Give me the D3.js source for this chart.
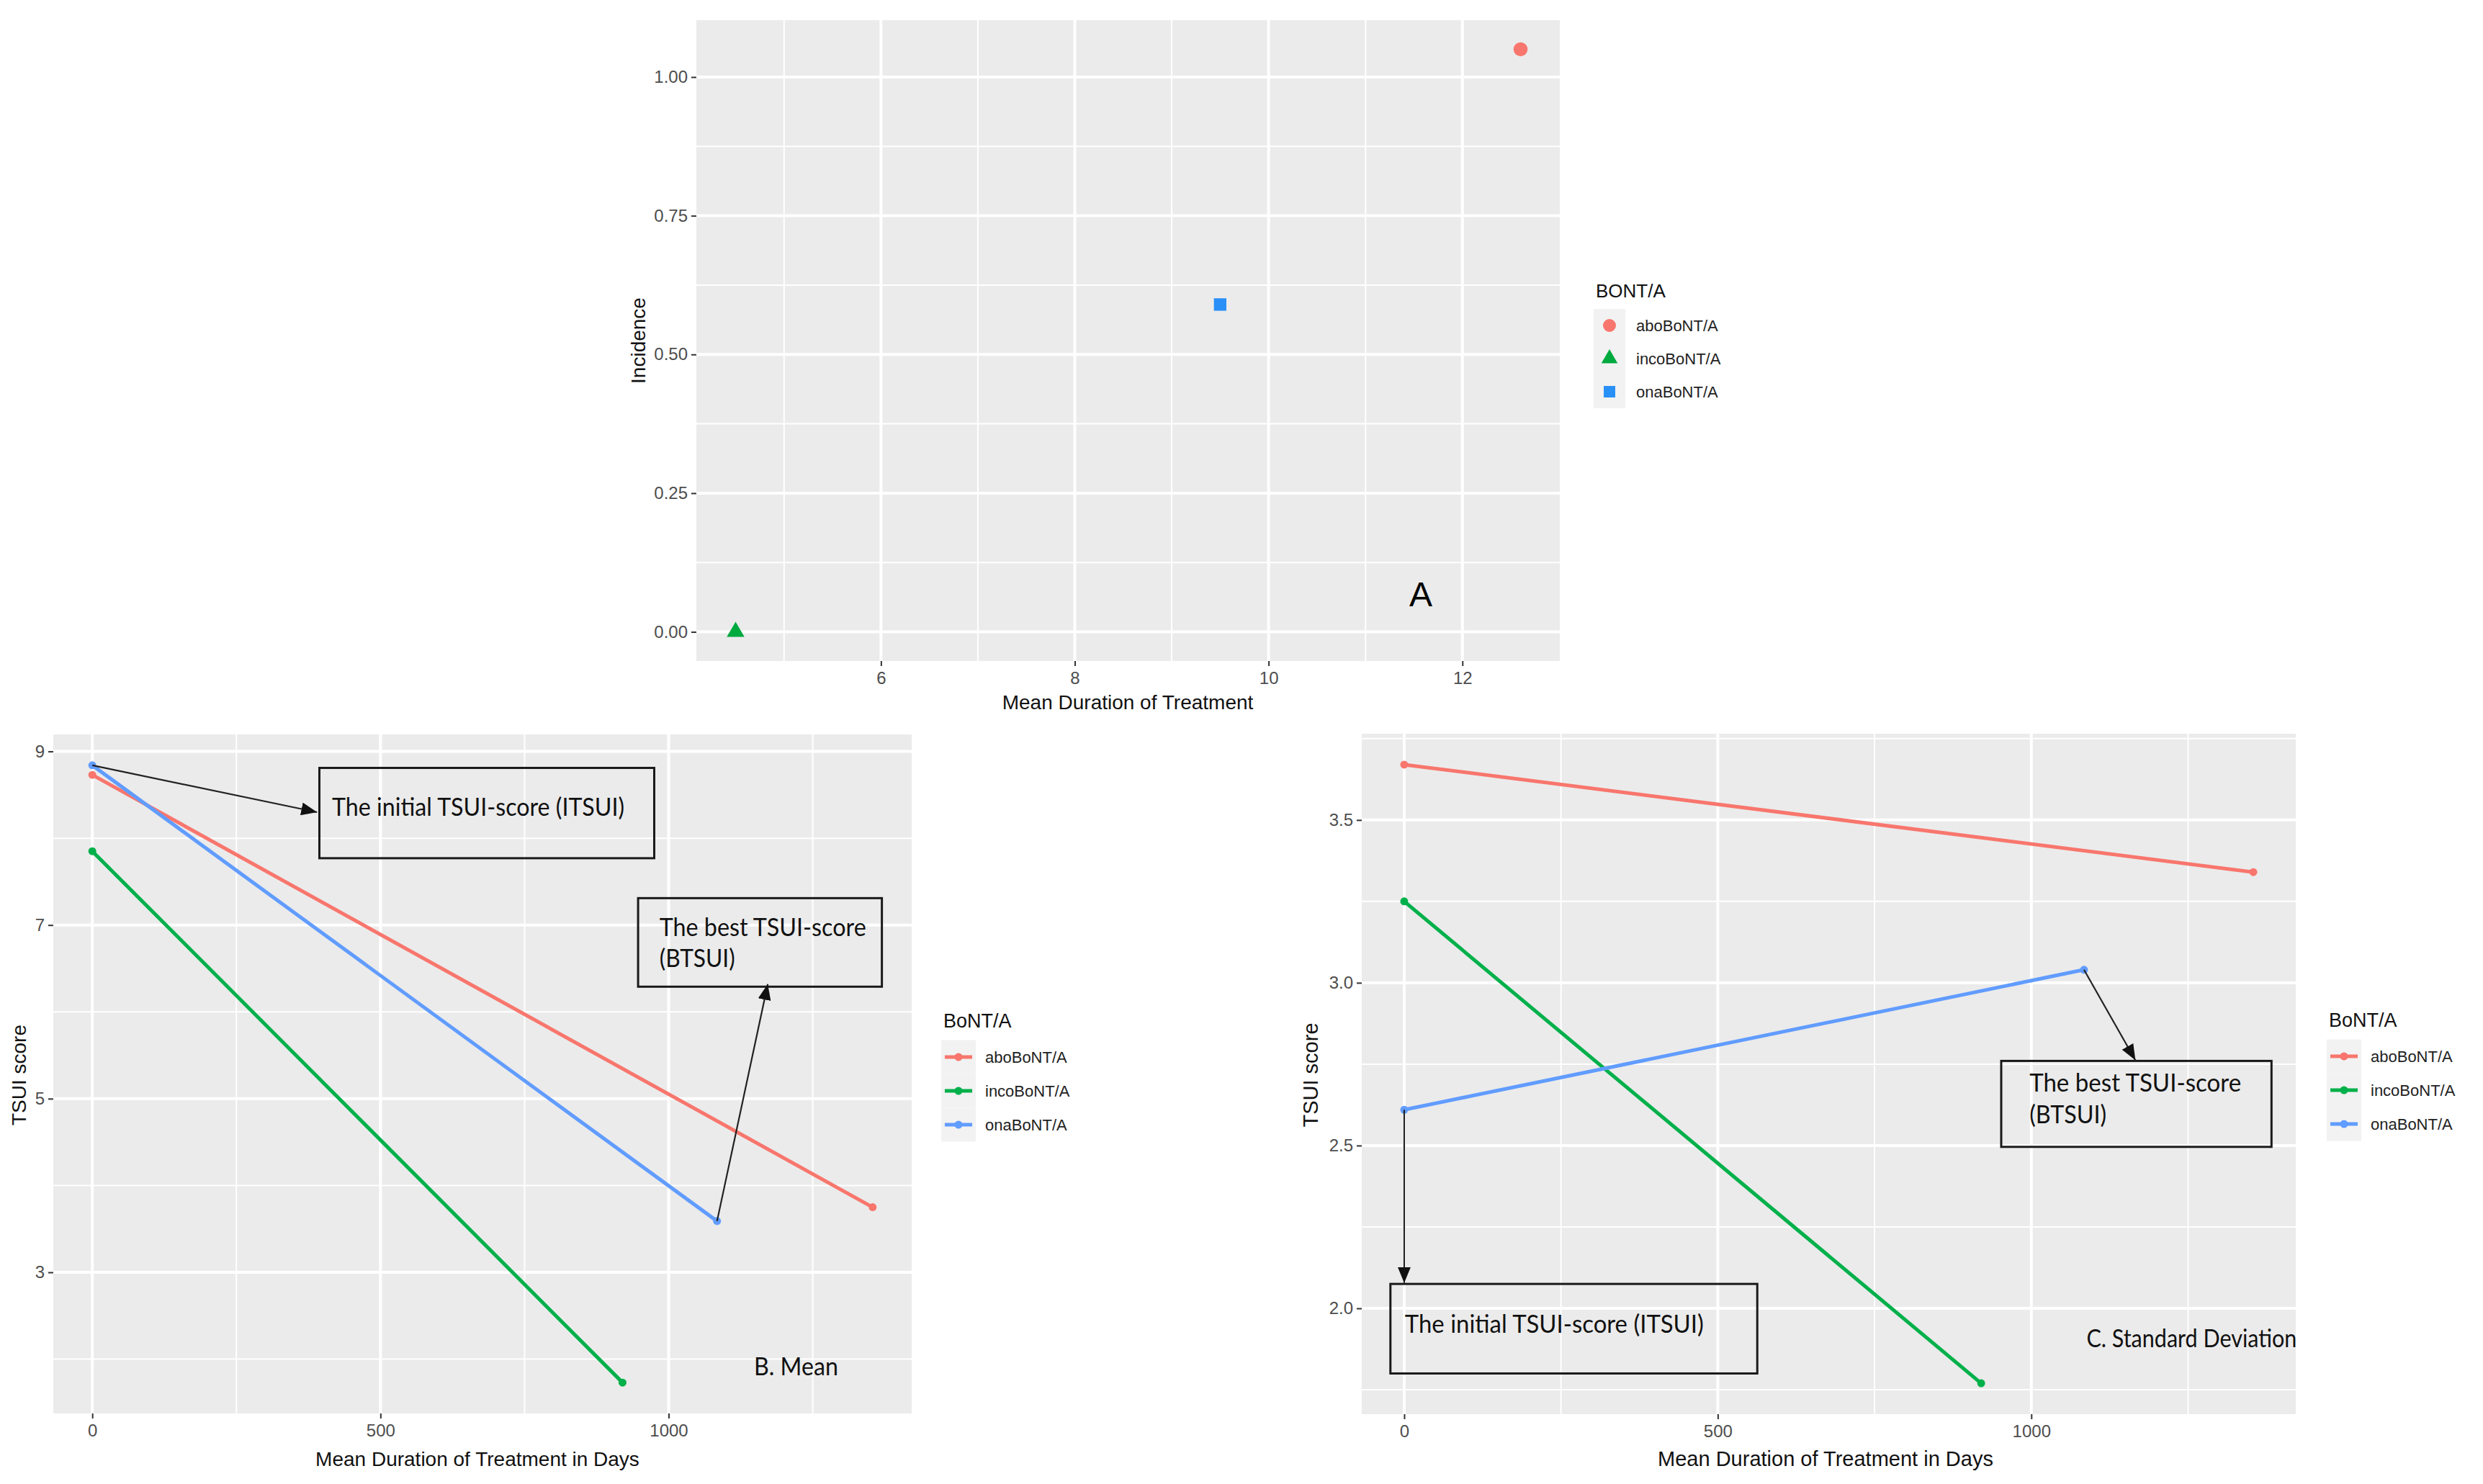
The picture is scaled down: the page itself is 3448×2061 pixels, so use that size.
<!DOCTYPE html>
<html><head><meta charset="utf-8">
<script src="https://cdn.jsdelivr.net/npm/d3@7"></script>
<style>body{margin:0;background:#fff}</style>
</head><body>
<svg id="c" width="3448" height="2061" xmlns="http://www.w3.org/2000/svg"></svg>
<script>
// ---------- data ----------
const series = ["aboBoNT/A", "incoBoNT/A", "onaBoNT/A"];
// Panel A
const meanDuration = [12.6, 4.5, 9.5];
const incidence = [1.05, 0.0, 0.59];
// Panels B and C (x = mean duration of treatment in days)
const daysStart = [0, 0, 0];
const daysEnd = [1354, 920, 1084];
const meanInitial = [8.73, 7.85, 8.84];
const meanBest = [3.75, 1.73, 3.59];
const sdInitial = [3.67, 3.25, 2.61];
const sdBest = [3.34, 1.77, 3.04];
// ticks
const ticksAx = [6, 8, 10, 12];
const ticksAy = [0, 0.25, 0.5, 0.75, 1.0];
const ticksBx = [0, 500, 1000];
const ticksBy = [3, 5, 7, 9];
const ticksCx = [0, 500, 1000];
const ticksCy = [2.0, 2.5, 3.0, 3.5];

// ---------- styles ----------
const lineColors = ["#F8766D", "#00B04A", "#619CFF"];
const pointColorsA = ["#F8766D", "#00AA3F", "#2990F7"];
const SANS = "'Liberation Sans', Arial, sans-serif";
const ANNO = "Lato, 'Open Sans', sans-serif";

const svg = d3.select("#c");
svg.append("rect").attr("width", 3448).attr("height", 2061).attr("fill", "#fff");

const defs = svg.append("defs");
defs.append("marker").attr("id", "ah").attr("markerUnits", "userSpaceOnUse")
  .attr("markerWidth", 24).attr("markerHeight", 18).attr("refX", 22).attr("refY", 9)
  .attr("orient", "auto")
  .append("path").attr("d", "M0,0 L22,9 L0,18 Z").attr("fill", "#111");

function expand(ext) {
  const r = ext[1] - ext[0];
  return [ext[0] - 0.05 * r, ext[1] + 0.05 * r];
}

function panel(cfg) {
  const g = svg.append("g");
  const x = d3.scaleLinear().domain(expand(cfg.xExt)).range([cfg.left, cfg.right]);
  const y = d3.scaleLinear().domain(expand(cfg.yExt)).range([cfg.bottom, cfg.top]);
  g.append("rect").attr("x", cfg.left).attr("y", cfg.top)
    .attr("width", cfg.right - cfg.left).attr("height", cfg.bottom - cfg.top).attr("fill", "#EBEBEB");
  const [x0, x1] = x.domain(), [y0, y1] = y.domain();
  const minor = (t) => {
    const step = t[1] - t[0];
    const out = [];
    for (let v = t[0] - step / 2; v < t[t.length - 1] + step; v += step) out.push(v);
    return out;
  };
  const xm = minor(cfg.xt).filter(v => v > x0 + (x1 - x0) * 0.005 && v < x1 - (x1 - x0) * 0.005);
  const ym = minor(cfg.yt).filter(v => v > y0 + (y1 - y0) * 0.005 && v < y1 - (y1 - y0) * 0.005);
  g.selectAll(".xm").data(xm).join("line").attr("x1", d => x(d)).attr("x2", d => x(d))
    .attr("y1", cfg.top).attr("y2", cfg.bottom).attr("stroke", "#fff").attr("stroke-width", 2);
  g.selectAll(".ym").data(ym).join("line").attr("y1", d => y(d)).attr("y2", d => y(d))
    .attr("x1", cfg.left).attr("x2", cfg.right).attr("stroke", "#fff").attr("stroke-width", 2);
  g.selectAll(".xM").data(cfg.xt).join("line").attr("x1", d => x(d)).attr("x2", d => x(d))
    .attr("y1", cfg.top).attr("y2", cfg.bottom).attr("stroke", "#fff").attr("stroke-width", 4);
  g.selectAll(".yM").data(cfg.yt).join("line").attr("y1", d => y(d)).attr("y2", d => y(d))
    .attr("x1", cfg.left).attr("x2", cfg.right).attr("stroke", "#fff").attr("stroke-width", 4);

  // axes
  const xa = g.append("g").attr("transform", `translate(0,${cfg.bottom})`)
    .call(d3.axisBottom(x).tickValues(cfg.xt).tickSize(7).tickPadding(8).tickFormat(cfg.xf || (d => d)));
  const ya = g.append("g").attr("transform", `translate(${cfg.left},0)`)
    .call(d3.axisLeft(y).tickValues(cfg.yt).tickSize(7).tickPadding(5).tickFormat(cfg.yf || (d => d)));
  [xa, ya].forEach(a => {
    a.select(".domain").remove();
    a.selectAll(".tick line").attr("stroke", "#333").attr("stroke-width", 2);
    a.selectAll(".tick text").attr("fill", "#4D4D4D").style("font-family", SANS).style("font-size", cfg.tickSize + "px");
  });
  g.append("text").attr("x", cfg.xTitleX).attr("y", cfg.xTitleY).attr("text-anchor", "middle")
    .style("font-family", SANS).style("font-size", cfg.titleSize + "px").attr("fill", "#111")
    .text(cfg.xTitle);
  g.append("text").attr("transform", `translate(${cfg.yTitleX},${cfg.yTitleY}) rotate(-90)`)
    .attr("text-anchor", "middle")
    .style("font-family", SANS).style("font-size", cfg.titleSize + "px").attr("fill", "#111")
    .text(cfg.yTitle);
  return { g, x, y };
}

// ---------- Panel A ----------
const A = panel({
  left: 967, right: 2166, top: 28, bottom: 918,
  xExt: d3.extent(meanDuration), yExt: d3.extent(incidence),
  xt: ticksAx, yt: ticksAy, yf: d3.format(".2f"), tickSize: 24, titleSize: 28,
  xTitle: "Mean Duration of Treatment", xTitleX: 1566, xTitleY: 985,
  yTitle: "Incidence", yTitleX: 896, yTitleY: 473
});
const shapes = [d3.symbolCircle, d3.symbolTriangle, d3.symbolSquare];
const shapeSizes = [300, 260, 300];
series.forEach((s, i) => {
  A.g.append("path")
    .attr("d", d3.symbol().type(shapes[i]).size(shapeSizes[i])())
    .attr("transform", `translate(${A.x(meanDuration[i])},${A.y(incidence[i])})`)
    .attr("fill", pointColorsA[i]);
});
A.g.append("text").attr("x", A.x(11.57)).attr("y", A.y(0.046)).attr("text-anchor", "middle")
  .style("font-family", SANS).style("font-size", "48px").attr("fill", "#000").text("A");
// legend A
{
  const lg = svg.append("g");
  lg.append("text").attr("x", 2216).attr("y", 413).style("font-family", SANS).style("font-size", "26px")
    .attr("fill", "#111").text("BONT/A");
  series.forEach((s, i) => {
    const cy = 452 + i * 46;
    lg.append("rect").attr("x", 2213).attr("y", cy - 23).attr("width", 44).attr("height", 46).attr("fill", "#F2F2F2");
    lg.append("path").attr("d", d3.symbol().type(shapes[i]).size(shapeSizes[i] * 0.85)())
      .attr("transform", `translate(2235,${cy})`).attr("fill", pointColorsA[i]);
    lg.append("text").attr("x", 2272).attr("y", cy + 8).style("font-family", SANS).style("font-size", "22px")
      .attr("fill", "#222").text(s);
  });
}

// ---------- helpers for line panels ----------
function linePanel(P, startV, endV) {
  series.forEach((s, i) => {
    const pts = [[daysStart[i], startV[i]], [daysEnd[i], endV[i]]];
    P.g.append("path").datum(pts)
      .attr("d", d3.line().x(d => P.x(d[0])).y(d => P.y(d[1])))
      .attr("fill", "none").attr("stroke", lineColors[i]).attr("stroke-width", 5);
    P.g.selectAll(null).data(pts).join("circle")
      .attr("cx", d => P.x(d[0])).attr("cy", d => P.y(d[1])).attr("r", 5.5).attr("fill", lineColors[i]);
  });
}
function box(P, x0, x1, y0, y1) {
  P.g.append("rect").attr("x", P.x(x0)).attr("y", P.y(y0))
    .attr("width", P.x(x1) - P.x(x0)).attr("height", P.y(y1) - P.y(y0))
    .attr("fill", "none").attr("stroke", "#1a1a1a").attr("stroke-width", 3);
}
function arrow(P, xa, ya, xb, yb) {
  P.g.append("line").attr("x1", P.x(xa)).attr("y1", P.y(ya)).attr("x2", P.x(xb)).attr("y2", P.y(yb))
    .attr("stroke", "#222").attr("stroke-width", 2.2).attr("marker-end", "url(#ah)");
}
function label(P, xv, yv, txt, size, len) {
  const t = P.g.append("text").attr("x", P.x(xv)).attr("y", P.y(yv))
    .style("font-family", ANNO).style("font-size", size + "px").attr("fill", "#111").text(txt);
  if (len) t.attr("textLength", len).attr("lengthAdjust", "spacingAndGlyphs");
}
function lineLegend(x0, title, titleY) {
  const lg = svg.append("g");
  lg.append("text").attr("x", x0).attr("y", titleY).style("font-family", SANS).style("font-size", "27px")
    .attr("fill", "#111").text(title);
  series.forEach((s, i) => {
    const cy = titleY + 41 + i * 47;
    lg.append("rect").attr("x", x0 - 3).attr("y", cy - 23.5).attr("width", 48).attr("height", 47).attr("fill", "#F2F2F2");
    lg.append("line").attr("x1", x0 + 2).attr("x2", x0 + 40).attr("y1", cy).attr("y2", cy)
      .attr("stroke", lineColors[i]).attr("stroke-width", 5);
    lg.append("circle").attr("cx", x0 + 21).attr("cy", cy).attr("r", 5.5).attr("fill", lineColors[i]);
    lg.append("text").attr("x", x0 + 58).attr("y", cy + 8).style("font-family", SANS).style("font-size", "22px")
      .attr("fill", "#222").text(s);
  });
}

// ---------- Panel B ----------
const B = panel({
  left: 74, right: 1266, top: 1020, bottom: 1963,
  xExt: [d3.min(daysStart), d3.max(daysEnd)], yExt: d3.extent(meanInitial.concat(meanBest)),
  xt: ticksBx, yt: ticksBy, tickSize: 24, titleSize: 28,
  xTitle: "Mean Duration of Treatment in Days", xTitleX: 663, xTitleY: 2036,
  yTitle: "TSUI score", yTitleX: 36, yTitleY: 1493
});
linePanel(B, meanInitial, meanBest);
box(B, 394, 975, 8.81, 7.77);
arrow(B, 0, 8.84, 390, 8.30);
label(B, 416, 8.26, "The initial TSUI-score (ITSUI)", 34, 406);
box(B, 947, 1370, 7.31, 6.29);
arrow(B, daysEnd[2], meanBest[2], 1172, 6.32);
label(B, 984, 6.87, "The best TSUI-score", 34, 287);
label(B, 984, 6.52, "(BTSUI)", 34, 105);
label(B, 1148, 1.81, "B. Mean", 34, 117);
lineLegend(1310, "BoNT/A", 1427);

// ---------- Panel C ----------
const C = panel({
  left: 1891, right: 3188, top: 1019, bottom: 1964,
  xExt: [d3.min(daysStart), d3.max(daysEnd)], yExt: d3.extent(sdInitial.concat(sdBest)),
  xt: ticksCx, yt: ticksCy, yf: d3.format(".1f"), tickSize: 24, titleSize: 29,
  xTitle: "Mean Duration of Treatment in Days", xTitleX: 2535, xTitleY: 2036,
  yTitle: "TSUI score", yTitleX: 1830, yTitleY: 1493
});
linePanel(C, sdInitial, sdBest);
box(C, 952, 1383, 2.76, 2.496);
arrow(C, daysEnd[2], sdBest[2], 1166, 2.762);
label(C, 997, 2.666, "The best TSUI-score", 35, 294);
label(C, 997, 2.569, "(BTSUI)", 35, 107);
box(C, -22, 563, 2.075, 1.80);
arrow(C, 0, sdInitial[2], 0, 2.078);
label(C, 1, 1.925, "The initial TSUI-score (ITSUI)", 35, 415);
label(C, 1088, 1.88, "C. Standard Deviation", 34, 292);
lineLegend(3234, "BoNT/A", 1426);
</script>
</body></html>
